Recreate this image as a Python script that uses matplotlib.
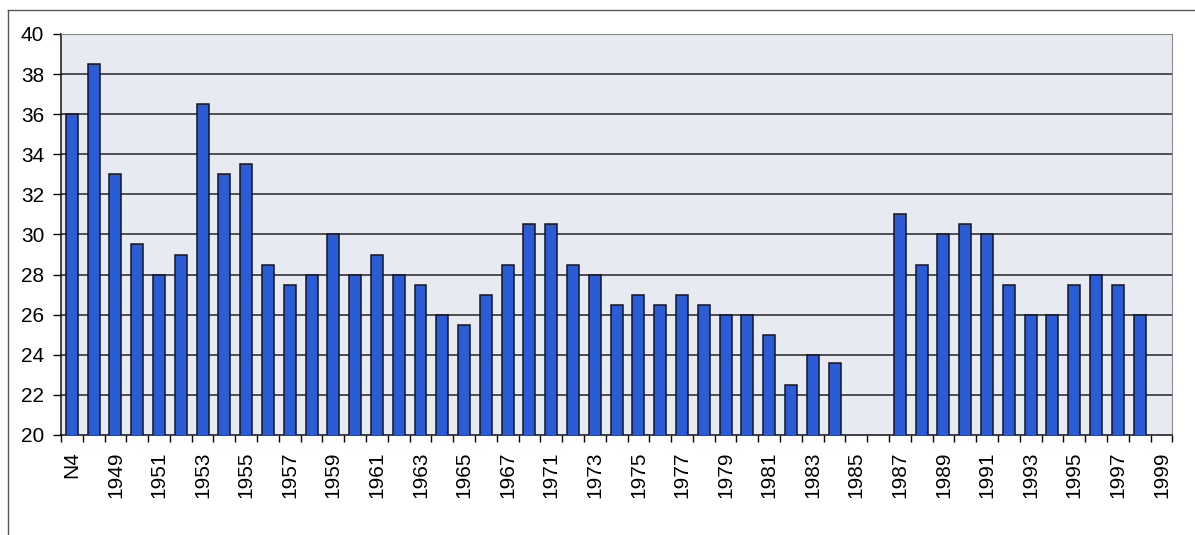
import numpy as np
import matplotlib
matplotlib.use("Agg")
import matplotlib.pyplot as plt
from matplotlib.lines import Line2D

plt.rcParams['font.family'] = ['Liberation Sans', 'DejaVu Sans']

# categories: first one is labelled "N4", one year between 1967 and 1971 is not labelled
years = ['N4'] + [str(y) for y in range(1948, 1968)] + ['1969'] + [str(y) for y in range(1971, 2000)]
values = [36, 38.5, 33, 29.5, 28, 29, 36.5, 33, 33.5, 28.5,
          27.5, 28, 30, 28, 29, 28, 27.5, 26, 25.5, 27,
          28.5, 30.5, 30.5, 28.5, 28, 26.5, 27, 26.5, 27, 26.5,
          26, 26, 25, 22.5, 24, 23.6, np.nan, np.nan, 31, 28.5,
          30, 30.5, 30, 27.5, 26, 26, 27.5, 28, 27.5, 26,
          np.nan]
y_ticks = list(range(20, 41, 2))

fig = plt.figure(figsize=(11.95, 5.35), dpi=100)
ax = fig.add_axes([0.051, 0.187, 0.930, 0.7495])
ax.set_facecolor('#e7eaf0')

x = np.arange(len(years))
ax.bar(x, values, width=0.55, color='#2a5cd6', edgecolor='#141428', linewidth=1.1, zorder=3)

ax.set_xlim(-0.5, len(years) - 0.5)
ax.set_ylim(20, 40)
ax.set_yticks(y_ticks)
ax.tick_params(axis='y', direction='out', length=6, width=1, labelsize=15, pad=6)
for v in y_ticks[1:-1]:
    ax.axhline(v, color='#333338', linewidth=1.2, zorder=1)

# every second category gets a label, tick marks sit between categories
ax.set_xticks(x[::2])
ax.set_xticklabels(years[::2], rotation=90)
ax.set_xticks(np.arange(len(years) + 1) - 0.5, minor=True)
ax.tick_params(axis='x', which='major', length=0, labelsize=15, pad=12)
ax.tick_params(axis='x', which='minor', direction='out', length=5, width=1)

ax.spines['left'].set_color('#111111')
ax.spines['bottom'].set_color('#111111')
ax.spines['left'].set_linewidth(1.1)
ax.spines['bottom'].set_linewidth(1.1)
ax.spines['top'].set_color('#8a8a8a')
ax.spines['right'].set_color('#8a8a8a')

# chart area frame
fig.add_artist(Line2D([8 / 1195, 1.0], [1 - 10 / 535, 1 - 10 / 535], color='#555555', linewidth=1))
fig.add_artist(Line2D([8 / 1195, 8 / 1195], [0.0, 1 - 10 / 535], color='#555555', linewidth=1))

fig.savefig('out.png', dpi=100, facecolor='white')
